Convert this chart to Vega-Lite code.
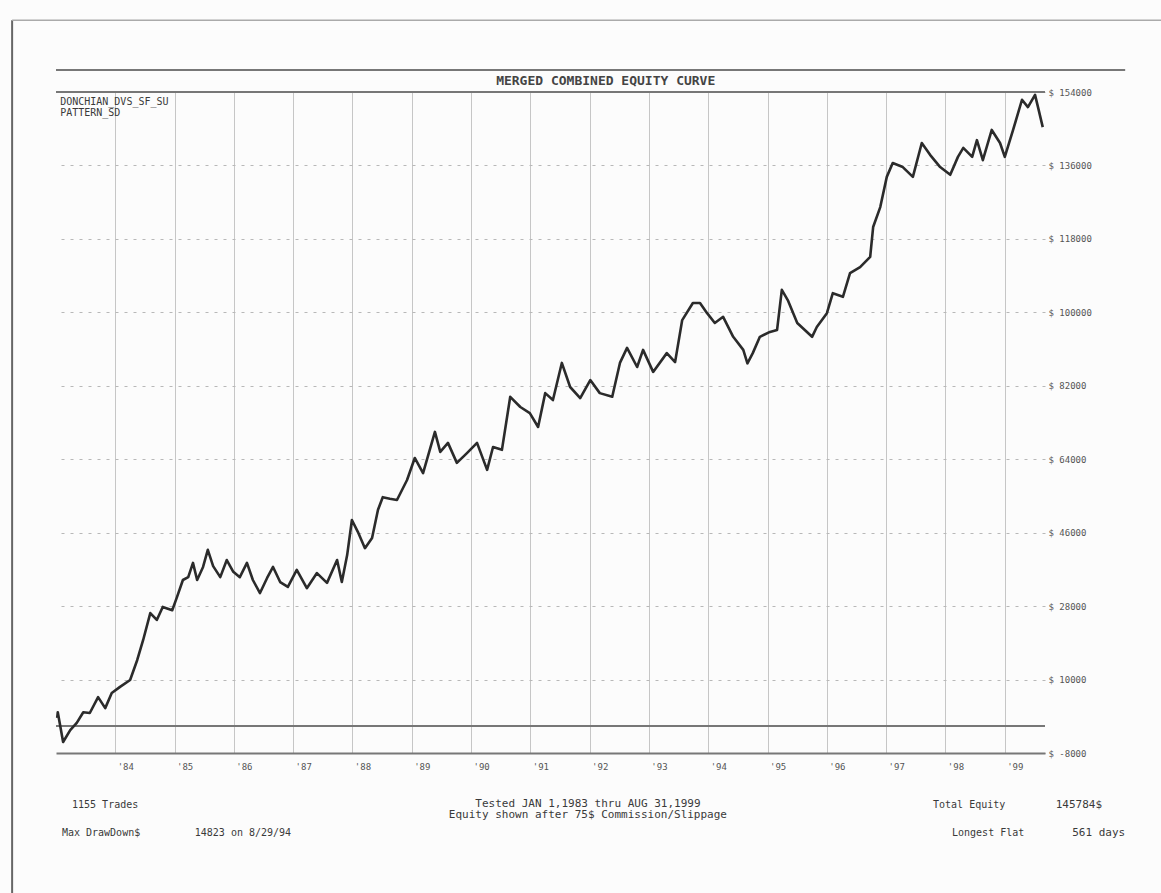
{
  "$schema": "https://vega.github.io/schema/vega-lite/v6.json",
  "width": 989,
  "height": 661,
  "autosize": {"type": "none"},
  "padding": {"left": 56, "top": 92, "right": 116, "bottom": 140},
  "background": "#fcfcfc",
  "config": {
    "view": {"stroke": null},
    "font": "DejaVu Sans Mono"
  },
  "datasets": {
    "equity": [
      {"t": 1983.02, "v": 600}, {"t": 1983.03, "v": 2000}, {"t": 1983.12, "v": -5300}, {"t": 1983.24, "v": -2400},
      {"t": 1983.35, "v": -600}, {"t": 1983.46, "v": 2000}, {"t": 1983.57, "v": 1800}, {"t": 1983.71, "v": 5700},
      {"t": 1983.83, "v": 3000}, {"t": 1983.94, "v": 6700}, {"t": 1984.08, "v": 8200}, {"t": 1984.25, "v": 9900},
      {"t": 1984.37, "v": 14800}, {"t": 1984.47, "v": 19700}, {"t": 1984.59, "v": 26300}, {"t": 1984.70, "v": 24600},
      {"t": 1984.80, "v": 27800}, {"t": 1984.96, "v": 27000}, {"t": 1985.04, "v": 30200}, {"t": 1985.14, "v": 34400},
      {"t": 1985.23, "v": 35100}, {"t": 1985.31, "v": 38600}, {"t": 1985.38, "v": 34400}, {"t": 1985.48, "v": 37600},
      {"t": 1985.56, "v": 41800}, {"t": 1985.65, "v": 37800}, {"t": 1985.77, "v": 35100}, {"t": 1985.88, "v": 39300},
      {"t": 1985.99, "v": 36400}, {"t": 1986.10, "v": 35100}, {"t": 1986.22, "v": 38600}, {"t": 1986.32, "v": 34400},
      {"t": 1986.44, "v": 31200}, {"t": 1986.56, "v": 34900}, {"t": 1986.66, "v": 37600}, {"t": 1986.78, "v": 33900},
      {"t": 1986.91, "v": 32700}, {"t": 1987.06, "v": 36900}, {"t": 1987.23, "v": 32400}, {"t": 1987.40, "v": 36100},
      {"t": 1987.57, "v": 33700}, {"t": 1987.74, "v": 39300}, {"t": 1987.82, "v": 33900}, {"t": 1987.91, "v": 40500},
      {"t": 1987.99, "v": 49100}, {"t": 1988.09, "v": 46200}, {"t": 1988.21, "v": 42200}, {"t": 1988.33, "v": 44700},
      {"t": 1988.43, "v": 51600}, {"t": 1988.51, "v": 54700}, {"t": 1988.63, "v": 54300}, {"t": 1988.75, "v": 54000},
      {"t": 1988.92, "v": 58900}, {"t": 1989.05, "v": 64300}, {"t": 1989.19, "v": 60600}, {"t": 1989.39, "v": 70700},
      {"t": 1989.48, "v": 65800}, {"t": 1989.61, "v": 68000}, {"t": 1989.76, "v": 63100}, {"t": 1989.93, "v": 65500},
      {"t": 1990.10, "v": 68000}, {"t": 1990.27, "v": 61400}, {"t": 1990.37, "v": 67000}, {"t": 1990.52, "v": 66300},
      {"t": 1990.66, "v": 79300}, {"t": 1990.83, "v": 76800}, {"t": 1990.99, "v": 75300}, {"t": 1991.13, "v": 71900},
      {"t": 1991.25, "v": 80200}, {"t": 1991.38, "v": 78500}, {"t": 1991.53, "v": 87600}, {"t": 1991.67, "v": 81700},
      {"t": 1991.84, "v": 79000}, {"t": 1992.01, "v": 83400}, {"t": 1992.17, "v": 80200}, {"t": 1992.38, "v": 79300},
      {"t": 1992.51, "v": 87600}, {"t": 1992.63, "v": 91300}, {"t": 1992.80, "v": 86600}, {"t": 1992.90, "v": 90800},
      {"t": 1993.07, "v": 85400}, {"t": 1993.30, "v": 90000}, {"t": 1993.44, "v": 87800}, {"t": 1993.56, "v": 98100},
      {"t": 1993.74, "v": 102300}, {"t": 1993.86, "v": 102300}, {"t": 1993.98, "v": 99800}, {"t": 1994.11, "v": 97400},
      {"t": 1994.25, "v": 98900}, {"t": 1994.42, "v": 94000}, {"t": 1994.59, "v": 90800}, {"t": 1994.66, "v": 87500},
      {"t": 1994.75, "v": 90000}, {"t": 1994.87, "v": 94000}, {"t": 1995.04, "v": 95200}, {"t": 1995.16, "v": 95700},
      {"t": 1995.24, "v": 105500}, {"t": 1995.34, "v": 103000}, {"t": 1995.50, "v": 97400}, {"t": 1995.75, "v": 94000},
      {"t": 1995.83, "v": 96400}, {"t": 1996.00, "v": 99800}, {"t": 1996.10, "v": 104700}, {"t": 1996.27, "v": 103800},
      {"t": 1996.39, "v": 109600}, {"t": 1996.56, "v": 111100}, {"t": 1996.73, "v": 113600}, {"t": 1996.78, "v": 120900},
      {"t": 1996.90, "v": 125800}, {"t": 1997.01, "v": 133200}, {"t": 1997.11, "v": 136600}, {"t": 1997.28, "v": 135600},
      {"t": 1997.45, "v": 133200}, {"t": 1997.60, "v": 141500}, {"t": 1997.74, "v": 138600}, {"t": 1997.91, "v": 135600},
      {"t": 1998.08, "v": 133700}, {"t": 1998.21, "v": 138100}, {"t": 1998.30, "v": 140300}, {"t": 1998.45, "v": 138100},
      {"t": 1998.53, "v": 142200}, {"t": 1998.63, "v": 137300}, {"t": 1998.78, "v": 144700}, {"t": 1998.92, "v": 141500},
      {"t": 1999.00, "v": 138100}, {"t": 1999.14, "v": 144700}, {"t": 1999.29, "v": 152100}, {"t": 1999.39, "v": 150300},
      {"t": 1999.51, "v": 153300}, {"t": 1999.56, "v": 150300}, {"t": 1999.64, "v": 145400}
    ],
    "hlines": [
      {"name": "header", "t": 1983, "t2": 2001.03, "v": 159400},
      {"name": "plottop", "t": 1983, "t2": 1999.678, "v": 154000},
      {"name": "base", "t": 1983, "t2": 1999.678, "v": -1400}
    ],
    "edges": [
      {"t": 1982.26, "v": 171600, "v2": -42300}
    ],
    "topedge": [
      {"t": 1982.26, "t2": 2001.7, "v": 171600}
    ],
    "heading": [
      {"label": "MERGED COMBINED EQUITY CURVE", "t": 1992.27, "v": 156600}
    ],
    "notes": [
      {"pos": "left", "label": "DONCHIAN_DVS_SF_SU", "t": 1983.07, "v": 151600},
      {"pos": "left", "label": "PATTERN_SD", "t": 1983.07, "v": 148800},
      {"pos": "left", "label": "1155 Trades", "t": 1983.27, "v": -20700},
      {"pos": "left", "label": "Max DrawDown$", "t": 1983.10, "v": -27600},
      {"pos": "left", "label": "14823 on 8/29/94", "t": 1985.34, "v": -27600},
      {"pos": "center", "label": "Tested JAN  1,1983 thru AUG 31,1999", "t": 1991.97, "v": -20500},
      {"pos": "center", "label": "Equity shown after  75$ Commission/Slippage", "t": 1991.97, "v": -23300},
      {"pos": "left", "label": "Total Equity", "t": 1997.79, "v": -20700},
      {"pos": "right", "label": "145784$", "t": 2000.64, "v": -20700},
      {"pos": "left", "label": "Longest Flat", "t": 1998.11, "v": -27600},
      {"pos": "right", "label": "561 days", "t": 2001.03, "v": -27600}
    ]
  },
  "encoding": {
    "x": {
      "field": "t",
      "type": "quantitative",
      "scale": {"domain": [1983, 1999.678], "nice": false, "zero": false},
      "axis": {
        "title": null,
        "values": [1984, 1985, 1986, 1987, 1988, 1989, 1990, 1991, 1992, 1993, 1994, 1995, 1996, 1997, 1998, 1999],
        "labelExpr": "\"'\" + substring(toString(datum.value), 2, 4)",
        "labelOffset": 10,
        "labelPadding": 9,
        "labelFont": "DejaVu Sans Mono",
        "labelFontSize": 9,
        "labelColor": "#555555",
        "ticks": false,
        "domainColor": "#777777",
        "domainWidth": 2,
        "grid": true,
        "gridColor": "#c6c6c6",
        "gridWidth": 1
      }
    },
    "y": {
      "field": "v",
      "type": "quantitative",
      "scale": {"domain": [-8000, 154000], "nice": false, "zero": false},
      "axis": {
        "title": null,
        "orient": "right",
        "values": [-8000, 10000, 28000, 46000, 64000, 82000, 100000, 118000, 136000, 154000],
        "labelExpr": "'$ ' + datum.value",
        "labelPadding": 3,
        "labelFont": "DejaVu Sans Mono",
        "labelFontSize": 9,
        "labelColor": "#555555",
        "ticks": false,
        "domain": false,
        "grid": true,
        "gridColor": "#b8b8b8",
        "gridDash": [3, 6],
        "gridWidth": 1
      }
    }
  },
  "layer": [
    {
      "data": {"name": "edges"},
      "mark": {"type": "rule", "color": "#666666", "strokeWidth": 2},
      "encoding": {"y2": {"field": "v2"}}
    },
    {
      "data": {"name": "topedge"},
      "mark": {"type": "rule", "color": "#aaaaaa", "strokeWidth": 1.5},
      "encoding": {"x2": {"field": "t2"}}
    },
    {
      "data": {"name": "hlines"},
      "mark": {"type": "rule", "color": "#777777", "strokeWidth": 2},
      "encoding": {"x2": {"field": "t2"}}
    },
    {
      "data": {"name": "equity"},
      "mark": {"type": "line", "color": "#2b2b2b", "strokeWidth": 2.6, "strokeJoin": "round"}
    },
    {
      "data": {"name": "heading"},
      "mark": {"type": "text", "align": "center", "baseline": "middle", "font": "DejaVu Sans Mono", "fontSize": 13, "fontWeight": "bold", "color": "#444444"},
      "encoding": {"text": {"field": "label"}}
    },
    {
      "data": {"name": "notes"},
      "transform": [{"filter": "datum.pos === 'left'"}],
      "mark": {"type": "text", "align": "left", "baseline": "middle", "font": "DejaVu Sans Mono", "fontSize": 10, "color": "#3a3a3a"},
      "encoding": {"text": {"field": "label"}}
    },
    {
      "data": {"name": "notes"},
      "transform": [{"filter": "datum.pos === 'center'"}],
      "mark": {"type": "text", "align": "center", "baseline": "middle", "font": "DejaVu Sans Mono", "fontSize": 11, "color": "#3a3a3a"},
      "encoding": {"text": {"field": "label"}}
    },
    {
      "data": {"name": "notes"},
      "transform": [{"filter": "datum.pos === 'right'"}],
      "mark": {"type": "text", "align": "right", "baseline": "middle", "font": "DejaVu Sans Mono", "fontSize": 11, "color": "#3a3a3a"},
      "encoding": {"text": {"field": "label"}}
    }
  ]
}
